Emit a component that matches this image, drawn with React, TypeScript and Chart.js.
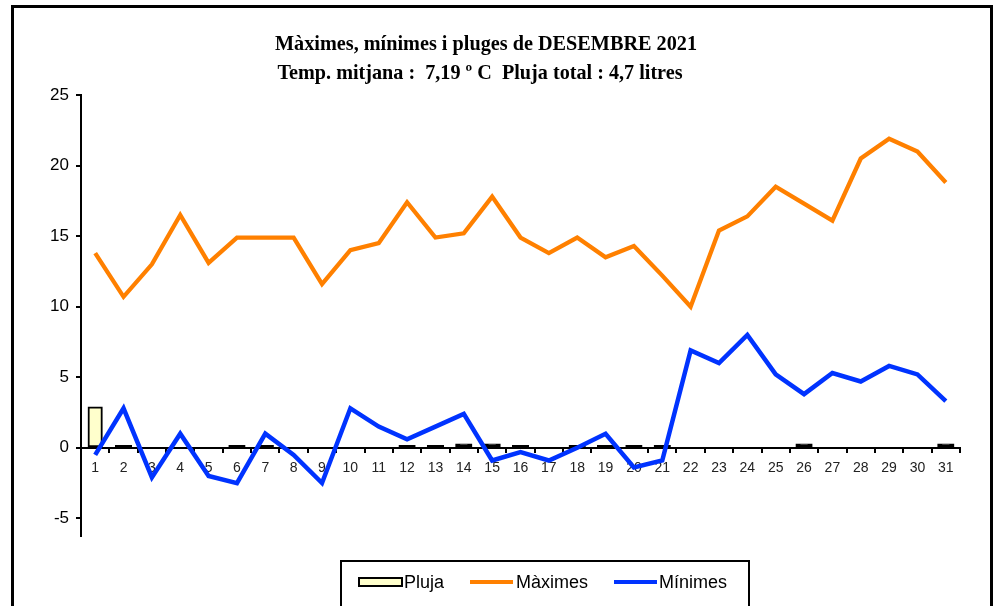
import React, { useEffect, useRef } from "react";
import { Chart, registerables } from "chart.js";

Chart.register(...registerables);

const days = ["1","2","3","4","5","6","7","8","9","10","11","12","13","14","15","16","17","18","19","20","21","22","23","24","25","26","27","28","29","30","31"];
const maximes = [13.8, 10.7, 13.0, 16.5, 13.1, 14.9, 14.9, 14.9, 11.6, 14.0, 14.5, 17.4, 14.9, 15.2, 17.8, 14.9, 13.8, 14.9, 13.5, 14.3, 12.2, 10.0, 15.4, 16.4, 18.5, 17.3, 16.1, 20.5, 21.9, 21.0, 18.8];
const minimes = [-0.5, 2.8, -2.1, 1.0, -2.0, -2.5, 1.0, -0.5, -2.5, 2.8, 1.5, 0.6, 1.5, 2.4, -0.9, -0.3, -0.9, 0.0, 1.0, -1.4, -0.9, 6.9, 6.0, 8.0, 5.2, 3.8, 5.3, 4.7, 5.8, 5.2, 3.3];
const pluja = [2.9, 0.1, 0, 0, 0, 0.1, 0.1, 0, 0, 0, 0, 0.1, 0.1, 0.2, 0.2, 0.1, 0, 0.1, 0.1, 0.1, 0.1, 0, 0, 0, 0, 0.2, 0, 0, 0, 0, 0.2];
const yTicks = [-5, 0, 5, 10, 15, 20, 25];
const titleLines = ["Màximes, mínimes i pluges de DESEMBRE 2021", "Temp. mitjana :  7,19 º C  Pluja total : 4,7 litres"];
const legendLabels = ["Pluja", "Màximes", "Mínimes"];

const ORANGE = "#ff8000";
const BLUE = "#0033ff";
const RAIN = "#ffffcc";

function fitText(ctx: CanvasRenderingContext2D, text: string, cx: number, y: number, width: number) {
  const w = ctx.measureText(text).width;
  const sx = width / w;
  ctx.save();
  ctx.translate(cx, y);
  ctx.scale(sx, 1);
  ctx.fillText(text, 0, 0);
  ctx.restore();
}

const decorPlugin = {
  id: "decor",
  afterDraw(chart: any) {
    const ctx = chart.ctx;
    ctx.save();
    ctx.strokeStyle = "#000";
    ctx.lineWidth = 3;
    ctx.strokeRect(12.5, 6.5, 979, 640);
    ctx.fillStyle = "#000";
    ctx.textAlign = "center";
    ctx.textBaseline = "alphabetic";
    ctx.font = 'bold 22px "Liberation Serif", "Times New Roman", serif';
    fitText(ctx, titleLines[0], 486, 50, 422);
    fitText(ctx, titleLines[1], 480, 79, 405);
    ctx.lineWidth = 2;
    ctx.strokeRect(341, 561, 408, 80);
    ctx.font = '18px "Liberation Sans", Arial, sans-serif';
    ctx.textAlign = "left";
    ctx.textBaseline = "middle";
    ctx.fillStyle = RAIN;
    ctx.fillRect(359, 578, 43, 8);
    ctx.strokeRect(359, 578, 43, 8);
    ctx.fillStyle = "#000";
    ctx.fillText(legendLabels[0], 404, 583);
    ctx.strokeStyle = ORANGE;
    ctx.lineWidth = 4;
    ctx.beginPath();
    ctx.moveTo(470, 582);
    ctx.lineTo(513, 582);
    ctx.stroke();
    ctx.fillText(legendLabels[1], 516, 583);
    ctx.strokeStyle = BLUE;
    ctx.beginPath();
    ctx.moveTo(614, 582);
    ctx.lineTo(657, 582);
    ctx.stroke();
    ctx.fillText(legendLabels[2], 659, 583);
    ctx.restore();
  },
};

export default function App() {
  const ref = useRef<HTMLCanvasElement | null>(null);
  useEffect(() => {
    if (!ref.current) return;
    const chart = new Chart(ref.current, {
      type: "bar",
      data: {
        labels: days,
        datasets: [
          {
            type: "bar",
            label: legendLabels[0],
            data: pluja,
            backgroundColor: (c: any) => (c.raw === 0 ? "rgba(0,0,0,0)" : c.raw < 0.5 ? "#000" : RAIN),
            borderColor: "#000",
            borderWidth: (c: any) => (c.raw === 0 ? 0 : 2),
            borderSkipped: false,
            inflateAmount: (c: any) => (c.raw === 0 ? 0 : c.raw < 0.5 ? 1.5 : 0.5),
            barPercentage: 0.5,
            categoryPercentage: 1,
            order: 3,
          },
          {
            type: "line",
            label: legendLabels[1],
            data: maximes,
            borderColor: ORANGE,
            backgroundColor: ORANGE,
            borderWidth: 4.3,
            pointRadius: 0,
            tension: 0,
            borderJoinStyle: "miter",
            order: 2,
          },
          {
            type: "line",
            label: legendLabels[2],
            data: minimes,
            borderColor: BLUE,
            backgroundColor: BLUE,
            borderWidth: 4.5,
            pointRadius: 0,
            tension: 0,
            borderJoinStyle: "miter",
            order: 1,
          },
        ],
      } as any,
      options: {
        responsive: false,
        animation: false,
        devicePixelRatio: 1,
        layout: { padding: { left: 20, right: 36, top: 95, bottom: 70 } },
        plugins: {
          legend: { display: false },
          title: { display: false },
          tooltip: { enabled: false },
        },
        scales: {
          x: {
            type: "category",
            position: { y: 0 } as any,
            offset: true,
            grid: {
              display: true,
              drawOnChartArea: false,
              drawTicks: true,
              tickLength: 4,
              offset: true,
              color: "#000",
              lineWidth: 2,
            },
            border: { display: true, color: "#000", width: 2 },
            ticks: {
              color: "#222",
              font: { family: '"Liberation Sans", Arial, sans-serif', size: 14 },
              padding: 8,
              maxRotation: 0,
              autoSkip: false,
            },
            afterFit: (s: any) => { s.height = 0; },
          },
          y: {
            type: "linear",
            min: -6.25,
            max: 25,
            grid: {
              display: true,
              drawOnChartArea: false,
              drawTicks: true,
              tickLength: 5,
              color: "#000",
              lineWidth: 2,
            },
            border: { display: true, color: "#000", width: 2 },
            ticks: {
              color: "#000",
              font: { family: '"Liberation Sans", Arial, sans-serif', size: 17 },
              padding: 7,
              callback: (v: any) => String(v),
            },
            afterBuildTicks: (s: any) => { s.ticks = yTicks.map((v) => ({ value: v })); },
            afterFit: (s: any) => { s.width = 61; },
          },
        },
      } as any,
      plugins: [decorPlugin],
    });
    return () => chart.destroy();
  }, []);
  return (
    <div style={{ position: "fixed", left: 0, top: 0, width: 996, height: 606, background: "#fff" }}>
      <canvas ref={ref} width={996} height={606} style={{ display: "block" }} />
    </div>
  );
}
